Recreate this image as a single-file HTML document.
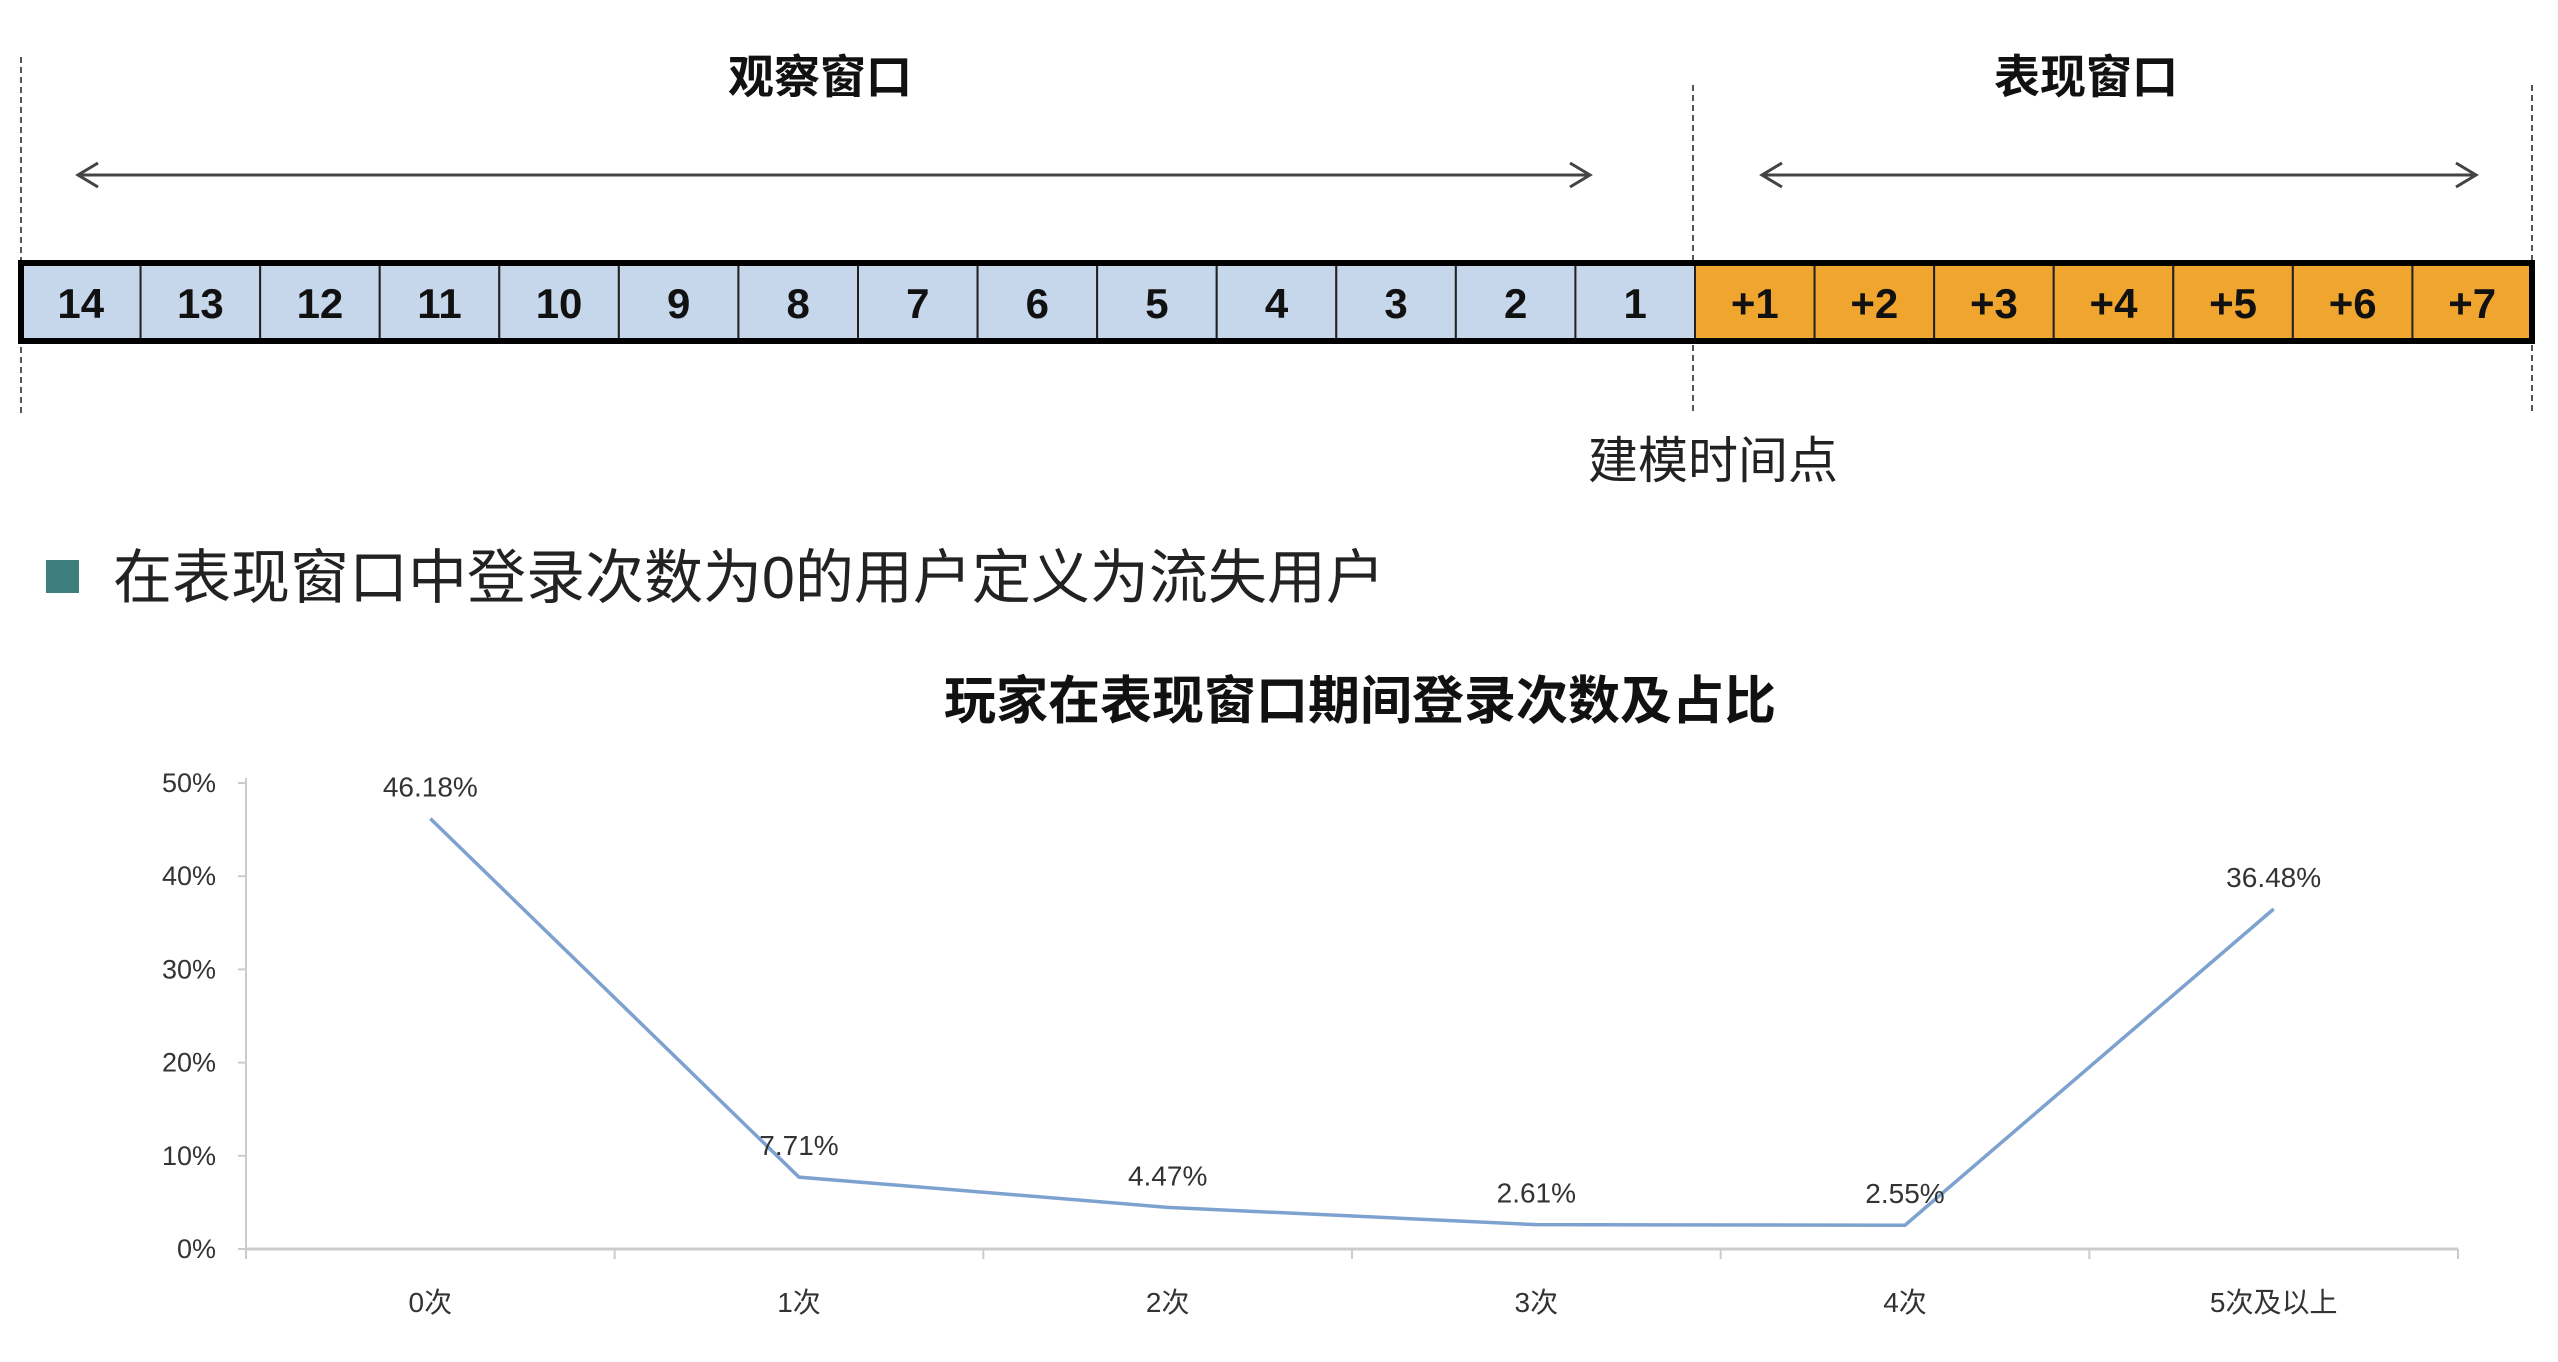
<!DOCTYPE html>
<html><head><meta charset="utf-8"><style>
body{margin:0;background:#fff;width:2558px;height:1362px;overflow:hidden;position:relative;font-family:"Liberation Sans","Noto Sans CJK SC",sans-serif;}
.abs{position:absolute;}
</style></head><body>
<svg class="abs" style="left:0;top:0" width="2558" height="1362">
  <line x1="21" y1="57" x2="21" y2="413" stroke="#555" stroke-width="2" stroke-dasharray="6,4"/>
  <line x1="1693" y1="85" x2="1693" y2="413" stroke="#555" stroke-width="2" stroke-dasharray="6,4"/>
  <line x1="2532" y1="85" x2="2532" y2="413" stroke="#555" stroke-width="2" stroke-dasharray="6,4"/>
  <g stroke="#444" stroke-width="3" fill="none">
    <line x1="78" y1="175" x2="1590" y2="175"/><polyline points="98,163 78,175 98,187"/><polyline points="1570,163 1590,175 1570,187"/>
  </g>
  <g stroke="#444" stroke-width="3" fill="none">
    <line x1="1762" y1="175" x2="2476" y2="175"/><polyline points="1782,163 1762,175 1782,187"/><polyline points="2456,163 2476,175 2456,187"/>
  </g>
  <text x="820" y="93" text-anchor="middle" font-size="46" font-weight="bold" fill="#111">观察窗口</text>
  <text x="2086" y="93" text-anchor="middle" font-size="46" font-weight="bold" fill="#111">表现窗口</text>
  <g id="cells"></g>
  <rect x="21" y="263" width="2511" height="78" fill="none" stroke="#000" stroke-width="6"/>
  <text x="1713" y="478" text-anchor="middle" font-size="50" fill="#222">建模时间点</text>
  <rect x="46" y="560" width="33" height="33" fill="#3d7f7f"/>
  <text x="113" y="598" font-size="59" fill="#222">在表现窗口中登录次数为0的用户定义为流失用户</text>
  <text x="1360" y="719" text-anchor="middle" font-size="52" font-weight="bold" fill="#111">玩家在表现窗口期间登录次数及占比</text>
  <g id="chart"></g>
</svg>
<script>
const cellLabels=["14","13","12","11","10","9","8","7","6","5","4","3","2","1","+1","+2","+3","+4","+5","+6","+7"];
const categories=["0次","1次","2次","3次","4次","5次及以上"];
const values=[46.18,7.71,4.47,2.61,2.55,36.48];
const yTicks=[0,10,20,30,40,50];
const NS="http://www.w3.org/2000/svg";
function mk(t,a,p){const e=document.createElementNS(NS,t);for(const k in a)e.setAttribute(k,a[k]);p.appendChild(e);return e;}
const cg=document.getElementById('cells');
const cw=2511/cellLabels.length;
cellLabels.forEach((l,i)=>{
  const r=mk('rect',{x:21+i*cw,y:263,width:cw,height:78,fill:l[0]=='+'?'#f0a62e':'#c6d7ec',stroke:'#222','stroke-width':2},cg);
  
  
  const t=mk('text',{x:21+i*cw+cw/2,y:318,'text-anchor':'middle','font-size':42,'font-weight':'bold',fill:'#111'},cg);
  t.textContent=l;
  
  
});
const g=document.getElementById('chart');
const x0=246,x1=2458,y0=1249,yTop=783;
const bw=(x1-x0)/categories.length;
const X=i=>x0+bw*(i+0.5);
const Y=v=>y0-(v/50)*(y0-yTop);
let a=mk('line',{x1:x0,y1:y0,x2:x0,y2:yTop-5,stroke:'#ccc','stroke-width':2},g);

a=mk('line',{x1:x0,y1:y0,x2:x1,y2:y0,stroke:'#ccc','stroke-width':3},g);

yTicks.forEach(v=>{
  const l=mk('line',{x1:x0-8,y1:Y(v),x2:x0,y2:Y(v),stroke:'#ccc','stroke-width':2},g);
  
  const t=mk('text',{x:x0-30,y:Y(v)+9,'text-anchor':'end','font-size':27,fill:'#333'},g);
  t.textContent=v+'%';
  
});
for(let i=0;i<=categories.length;i++){
  const l=mk('line',{x1:x0+bw*i,y1:y0,x2:x0+bw*i,y2:y0+10,stroke:'#ccc','stroke-width':2},g);
  
}
categories.forEach((c,i)=>{
  const t=mk('text',{x:X(i),y:1312,'text-anchor':'middle','font-size':28,fill:'#333'},g);
  t.textContent=c;
  
});
const p=mk('polyline',{points:values.map((v,i)=>X(i)+','+Y(v)).join(' '),fill:'none',stroke:'#7da2cf','stroke-width':3.5},g);

values.forEach((v,i)=>{
  const t=mk('text',{x:X(i),y:Y(v)-22,'text-anchor':'middle','font-size':28,fill:'#333'},g);
  t.textContent=v.toFixed(2)+'%';
  
});
</script>
</body></html>
